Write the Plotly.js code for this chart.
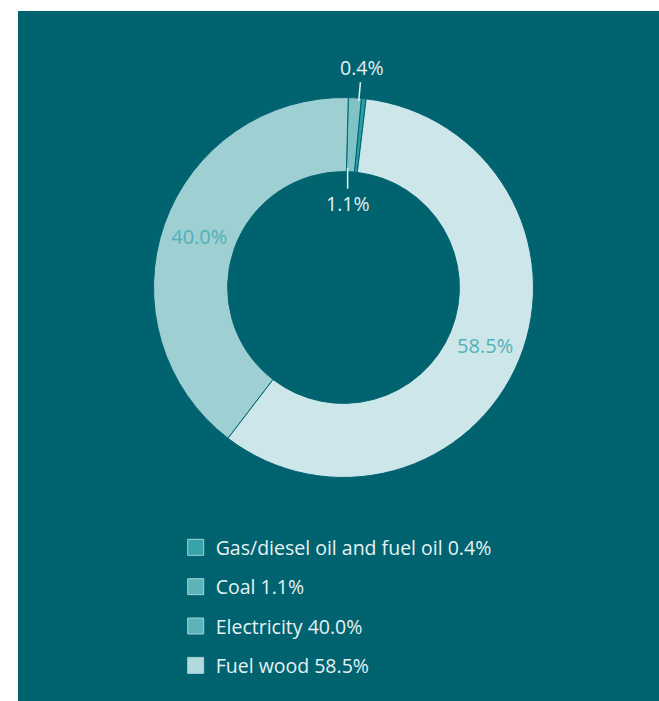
<!DOCTYPE html>
<html>
<head>
<meta charset="utf-8">
<script src="https://cdn.plot.ly/plotly-3.0.1.min.js"></script>
<style>
  html, body { margin: 0; padding: 0; background: #ffffff; }
  #chart { position: absolute; left: 18px; top: 11px; width: 641px; height: 690px; }
</style>
</head>
<body>
<div id="chart"></div>
<script>
// ---- data ----
const labels = ['Gas/diesel oil and fuel oil', 'Coal', 'Electricity', 'Fuel wood'];
const values = [0.4, 1.1, 40.0, 58.5];
const sliceColors = ['#2a9ea3', '#7ec3c6', '#9ecfd3', '#cde6e9'];
const legendColors = ['#36a4a8', '#5db4b8', '#5db4b8', '#b2d9dd'];
const insideLabel = [false, false, true, true];

// ---- layout constants ----
const W = 641, H = 690;
const BG = '#00636f';
const FONT = 'Open Sans, Noto Sans, sans-serif';
const dom = { x: [0.2114, 0.8042], y: [0.3239, 0.8747] };
const hole = 0.61;

const total = values.reduce((a, b) => a + b, 0);
const rot = (values[0] + values[1]) / total * 360;
const R = Math.min((dom.x[1] - dom.x[0]) * W, (dom.y[1] - dom.y[0]) * H) / 2;
const cx = (dom.x[0] + dom.x[1]) / 2 * W;
const cy = (1 - (dom.y[0] + dom.y[1]) / 2) * H;

function midAngle(i) {
  let c0 = 0;
  for (let k = 0; k < i; k++) c0 += values[k];
  return rot - (c0 + values[i] / 2) / total * 360;
}
function pt(deg, rho) {
  const th = deg * Math.PI / 180;
  return { x: (cx + rho * Math.sin(th)) / W, y: 1 - (cy - rho * Math.cos(th)) / H };
}
function fmt(v) { return v.toFixed(1) + '%'; }

const pie = {
  type: 'pie',
  labels: labels,
  values: values,
  sort: false,
  direction: 'counterclockwise',
  rotation: rot,
  hole: hole,
  domain: dom,
  marker: { colors: sliceColors, line: { color: BG, width: 1 } },
  texttemplate: values.map((v, i) => insideLabel[i] ? fmt(v) : ''),
  textposition: 'inside',
  insidetextorientation: 'horizontal',
  insidetextfont: { family: FONT, size: 20, color: '#4fb2b7' },
  showlegend: false,
  hoverinfo: 'skip'
};

const legendTraces = labels.map((lab, i) => ({
  type: 'scatter',
  mode: 'markers',
  x: [null], y: [null],
  name: lab + ' ' + fmt(values[i]),
  legendgroup: 'g' + i,
  marker: { symbol: 'square', size: 16, color: legendColors[i], line: { color: '#9fd3d6', width: 1 } },
  hoverinfo: 'skip'
}));

const gasTip = pt(midAngle(0), R - 3);
const coalTip = pt(midAngle(1), R * hole + 4);

const annColor = '#e3f1f2';
const annotations = [
  { xref: 'paper', yref: 'paper', x: gasTip.x, y: gasTip.y, text: fmt(values[0]),
    showarrow: true, arrowhead: 0, arrowwidth: 1.5, arrowcolor: annColor, ax: 3, ay: -34,
    font: { family: FONT, size: 19.5, color: annColor } },
  { xref: 'paper', yref: 'paper', x: coalTip.x, y: coalTip.y, text: fmt(values[1]),
    showarrow: true, arrowhead: 0, arrowwidth: 1.5, arrowcolor: annColor, ax: 0, ay: 36,
    font: { family: FONT, size: 19.5, color: annColor } }
];

const layout = {
  width: W, height: H,
  margin: { l: 0, r: 0, t: 0, b: 0 },
  paper_bgcolor: BG,
  plot_bgcolor: BG,
  xaxis: { visible: false, range: [0, 1] },
  yaxis: { visible: false, range: [0, 1] },
  showlegend: true,
  legend: {
    x: 0.246, y: 0.2505, xanchor: 'left', yanchor: 'top',
    bgcolor: 'rgba(0,0,0,0)',
    font: { family: FONT, size: 19.5, color: '#e6f2f3' },
    tracegroupgap: 11,
    itemclick: false, itemdoubleclick: false
  },
  annotations: annotations,
  hovermode: false
};

Plotly.newPlot('chart', [pie].concat(legendTraces), layout, { displayModeBar: false, staticPlot: true });
</script>
</body>
</html>
